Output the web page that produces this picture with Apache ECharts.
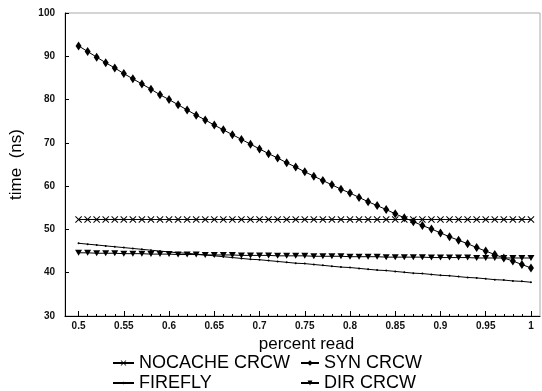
<!DOCTYPE html>
<html>
<head>
<meta charset="utf-8">
<script src="https://cdn.jsdelivr.net/npm/echarts@6/dist/echarts.min.js"></script>
<style>
  html, body { margin: 0; padding: 0; background: #fff; }
  #chart { width: 542px; height: 391px; }
</style>
</head>
<body>
<div id="chart"></div>
<script>
// percent read, 0.50 .. 1.00
var xs = [0.50, 0.51, 0.52, 0.53, 0.54, 0.55, 0.56, 0.57, 0.58, 0.59,
  0.60, 0.61, 0.62, 0.63, 0.64, 0.65, 0.66, 0.67, 0.68, 0.69,
  0.70, 0.71, 0.72, 0.73, 0.74, 0.75, 0.76, 0.77, 0.78, 0.79,
  0.80, 0.81, 0.82, 0.83, 0.84, 0.85, 0.86, 0.87, 0.88, 0.89,
  0.90, 0.91, 0.92, 0.93, 0.94, 0.95, 0.96, 0.97, 0.98, 0.99, 1.00];
var xTicks = [0.5, 0.55, 0.6, 0.65, 0.7, 0.75, 0.8, 0.85, 0.9, 0.95, 1];

// time (ns)
var nocache = [52.3, 52.3, 52.3, 52.3, 52.3, 52.3, 52.3, 52.3, 52.3, 52.3,
  52.3, 52.3, 52.3, 52.3, 52.3, 52.3, 52.3, 52.3, 52.3, 52.3,
  52.3, 52.3, 52.3, 52.3, 52.3, 52.3, 52.3, 52.3, 52.3, 52.3,
  52.3, 52.3, 52.3, 52.3, 52.3, 52.3, 52.3, 52.3, 52.3, 52.3,
  52.3, 52.3, 52.3, 52.3, 52.3, 52.3, 52.3, 52.3, 52.3, 52.3, 52.3];
var syn = [92.4, 91.1, 89.8, 88.5, 87.3, 86.0, 84.8, 83.6, 82.4, 81.1,
  80.0, 78.8, 77.6, 76.4, 75.3, 74.1, 73.0, 71.9, 70.8, 69.7,
  68.6, 67.5, 66.5, 65.4, 64.4, 63.3, 62.3, 61.3, 60.3, 59.3,
  58.4, 57.4, 56.4, 55.5, 54.6, 53.6, 52.7, 51.8, 50.9, 50.1,
  49.2, 48.3, 47.5, 46.7, 45.8, 45.0, 44.2, 43.4, 42.7, 41.9, 41.1];
var firefly = [46.8, 46.6, 46.4, 46.2, 46.0, 45.8, 45.6, 45.4, 45.2, 45.0,
  44.8, 44.6, 44.5, 44.3, 44.1, 43.9, 43.7, 43.5, 43.3, 43.1,
  43.0, 42.8, 42.6, 42.4, 42.2, 42.1, 41.9, 41.7, 41.5, 41.3,
  41.2, 41.0, 40.8, 40.6, 40.5, 40.3, 40.1, 39.9, 39.8, 39.6,
  39.4, 39.3, 39.1, 38.9, 38.8, 38.6, 38.4, 38.3, 38.1, 38.0, 37.8];
var dir = [44.6, 44.6, 44.5, 44.5, 44.5, 44.4, 44.4, 44.4, 44.3, 44.3,
  44.3, 44.2, 44.2, 44.2, 44.1, 44.1, 44.1, 44.1, 44.0, 44.0,
  44.0, 44.0, 43.9, 43.9, 43.9, 43.9, 43.8, 43.8, 43.8, 43.8,
  43.7, 43.7, 43.7, 43.7, 43.6, 43.6, 43.6, 43.6, 43.6, 43.5,
  43.5, 43.5, 43.5, 43.5, 43.4, 43.4, 43.4, 43.4, 43.4, 43.4, 43.4];

function pairs(ys) {
  return xs.map(function (x, i) { return [x, ys[i]]; });
}

var font = 'Liberation Sans, Arial, sans-serif';
var crossPath = 'path://M0,1L1,0L5,4L9,0L10,1L6,5L10,9L9,10L5,6L1,10L0,9L4,5Z';

// one legend box per entry, laid out as 2 x 2
function legendAt(name, left, top, w, h) {
  return {
    left: left, top: top,
    itemWidth: w, itemHeight: h, itemGap: 0,
    padding: 0,
    textStyle: { fontSize: 18, color: '#000', lineHeight: 20 },
    data: [name]
  };
}

var chart = echarts.init(document.getElementById('chart'));
var option = {
  backgroundColor: '#fff',
  animation: false,
  textStyle: { fontFamily: font },
  grid: {
    left: 60, right: 2, top: 13, bottom: 75,
    show: true, borderColor: '#aaa', borderWidth: 1
  },
  xAxis: [{
    type: 'value',
    min: 0.485, max: 1.01,
    name: 'percent read',
    nameLocation: 'middle',
    nameGap: 18,
    nameTextStyle: { fontSize: 17, color: '#000', fontFamily: font, padding: [0, 0, 0, 8] },
    axisLine: { onZero: false, lineStyle: { color: '#000', width: 1 } },
    axisTick: { inside: true, length: 5, customValues: xTicks, lineStyle: { color: '#000' } },
    axisLabel: { customValues: xTicks, fontSize: 10, fontWeight: 'bold', color: '#111', margin: 5 },
    splitLine: { show: false }
  }, {
    type: 'value',
    min: 0.485, max: 1.01,
    position: 'bottom',
    axisLine: { show: false },
    axisTick: { inside: true, length: 2, customValues: xs, lineStyle: { color: '#000' } },
    axisLabel: { show: false },
    splitLine: { show: false }
  }],
  yAxis: {
    type: 'value',
    min: 30, max: 100, interval: 10,
    name: 'time  (ns)',
    nameLocation: 'middle',
    nameGap: 40,
    nameRotate: 90,
    nameTextStyle: { fontSize: 17, color: '#000', fontFamily: font },
    axisLine: { show: true, lineStyle: { color: '#000', width: 1 } },
    axisTick: { inside: true, length: 4, lineStyle: { color: '#000' } },
    axisLabel: { fontSize: 10, fontWeight: 'bold', color: '#111', margin: 10 },
    splitLine: { show: false }
  },
  legend: [
    legendAt('NOCACHE CRCW', 112, 353, 21, 7),
    legendAt('FIREFLY', 112, 373, 21, 3),
    legendAt('SYN CRCW', 300, 353, 18, 7),
    legendAt('DIR CRCW', 300, 373, 18, 6)
  ],
  series: [{
    name: 'NOCACHE CRCW',
    type: 'line',
    data: pairs(nocache),
    symbol: crossPath,
    symbolSize: 7,
    lineStyle: { color: '#000', width: 1 },
    itemStyle: { color: '#000' }
  }, {
    name: 'SYN CRCW',
    type: 'line',
    data: pairs(syn),
    symbol: 'diamond',
    symbolSize: [6, 9],
    lineStyle: { color: '#000', width: 1 },
    itemStyle: { color: '#000' }
  }, {
    name: 'FIREFLY',
    type: 'line',
    data: pairs(firefly),
    symbol: 'circle',
    symbolSize: 2,
    lineStyle: { color: '#000', width: 1 },
    itemStyle: { color: '#000' }
  }, {
    name: 'DIR CRCW',
    type: 'line',
    data: pairs(dir),
    symbol: 'triangle',
    symbolRotate: 180,
    symbolSize: [7, 6],
    lineStyle: { color: '#000', width: 1 },
    itemStyle: { color: '#000' }
  }]
};
chart.setOption(option);
</script>
</body>
</html>
